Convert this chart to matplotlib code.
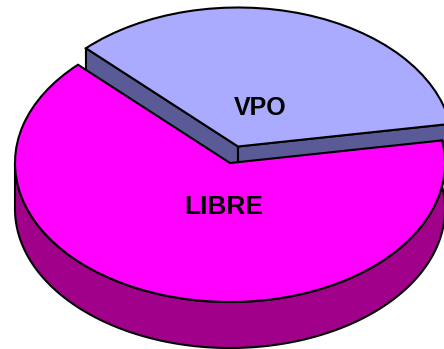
import numpy as np
import matplotlib
matplotlib.use("Agg")
import matplotlib.pyplot as plt

categories = ["LIBRE", "VPO"]
values = [65.1, 34.9]
top_colors = ["#FF00FF", "#AAAAFF"]
side_colors = ["#A0008A", "#5A5A96"]

W, H = 444, 349
CX, CY = 230, 163
RX, RY = 215, 139
DEPTH = 46 / RY
OFFSET = (8 / RX, 16.5 / RY)
START = 135
LW = 1.5

fig = plt.figure(figsize=(W / 100, H / 100), dpi=100)
ax = fig.add_axes([0, 0, 1, 1])

fracs = np.array(values) / sum(values)
libre_end = START + 360 * fracs[0]


def arc(a0, a1, n=200):
    t = np.radians(np.linspace(a0, a1, n))
    return np.cos(t), np.sin(t)


def side_polygon(cx, cy, a0, a1, color, z):
    # only the part of the rim facing the viewer (180..360 degrees and beyond) is visible
    x, y = arc(max(a0, 180), a1)
    xs = np.r_[x, x[::-1]] + cx
    ys = np.r_[y, y[::-1] - DEPTH] + cy
    ax.fill(xs, ys, facecolor=color, edgecolor="black", lw=LW, zorder=z, joinstyle="round")


def radial_wall(cx, cy, angle, color, z):
    x, y = np.cos(np.radians(angle)), np.sin(np.radians(angle))
    ax.fill([cx, cx + x, cx + x, cx], [cy, cy + y, cy + y - DEPTH, cy - DEPTH],
            facecolor=color, edgecolor="black", lw=LW, zorder=z, joinstyle="round")


# VPO slice, pulled out towards the back
radial_wall(OFFSET[0], OFFSET[1], START, side_colors[1], 1)
radial_wall(OFFSET[0], OFFSET[1], libre_end, side_colors[1], 1)
vpo_wedges, _ = ax.pie([fracs[1], fracs[0]], colors=[top_colors[1], "none"],
                       startangle=libre_end - 360, center=OFFSET, radius=1, normalize=True,
                       wedgeprops=dict(edgecolor="black", linewidth=LW, zorder=2))
vpo_wedges[1].set_visible(False)

# LIBRE slice
side_polygon(0, 0, START, libre_end, side_colors[0], 3)
wedges, _ = ax.pie([fracs[0], fracs[1]], colors=[top_colors[0], "none"], startangle=START,
                   center=(0, 0), radius=1, normalize=True,
                   wedgeprops=dict(edgecolor="black", linewidth=LW, zorder=4))
wedges[1].set_visible(False)

ax.set_aspect("auto")
ax.set_xlim(-CX / RX, (W - CX) / RX)
ax.set_ylim((CY - H) / RY, CY / RY)
ax.axis("off")

label_font = dict(family="Liberation Sans", weight="bold", ha="center",
                  va="center", color="black", zorder=6)
ax.text((260.5 - CX) / RX, (CY - 108) / RY, categories[1], fontsize=18, **label_font)
ax.text((223.5 - CX) / RX, (CY - 207.5) / RY, categories[0], fontsize=19, **label_font)

fig.savefig("out.png", dpi=100)
